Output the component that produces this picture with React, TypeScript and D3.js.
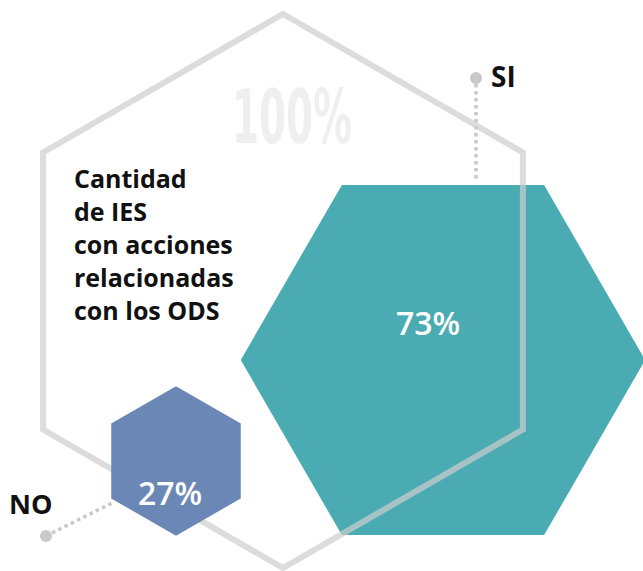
import React from "react";
import * as d3 from "d3";

// ---- data ----
const categories = ["SI", "NO"];
const values = [73, 27];
const totalValue = 100;
const valueLabels = ["73%", "27%"];
const totalLabel = "100%";
const titleLines = ["Cantidad", "de IES", "con acciones", "relacionadas", "con los ODS"];

// ---- layout / style ----
const W = 643;
const H = 571;
const colors = ["#4aabb3", "#6a87b6"];
const outlineColor = "#cdcdcd";
const dotColor = "#c9c9c9";
const font = "'Open Sans', 'Noto Sans', sans-serif";

const rScale = d3.scaleLinear().domain([0, 100]).range([0, 277]);

const outlineCenter: [number, number] = [283, 291];
const centers: [number, number][] = [
  [443, 360],
  [176, 461],
];
const orientations = [0, -90]; // flat-top, pointy-top
const labelOffsets: [number, number][] = [
  [-15, -25],
  [-6, 44],
];

function hexPoints(cx: number, cy: number, r: number, startDeg: number): [number, number][] {
  return d3.range(6).map((k) => {
    const a = ((startDeg + 60 * k) * Math.PI) / 180;
    return [cx + r * Math.cos(a), cy + r * Math.sin(a)] as [number, number];
  });
}

const hexLine = d3.line<[number, number]>().curve(d3.curveLinearClosed);

export default function App() {
  const outline = hexLine(hexPoints(outlineCenter[0], outlineCenter[1], rScale(totalValue), -90)) || "";
  const hexes = values.map((v, i) =>
    hexLine(hexPoints(centers[i][0], centers[i][1], rScale(v), orientations[i])) || ""
  );

  return (
    <svg
      width={W}
      height={H}
      viewBox={`0 0 ${W} ${H}`}
      style={{ position: "absolute", left: 0, top: 0, background: "#fff" }}
    >
      {/* 100% label */}
      <text
        x={292}
        y={143}
        textAnchor="middle"
        fontFamily="'Liberation Sans Narrow', 'DejaVu Sans Condensed', sans-serif"
        fontWeight={700}
        fontSize={74}
        fill="#efefef"
        textLength={120}
        lengthAdjust="spacingAndGlyphs"
      >
        {totalLabel}
      </text>

      {/* title */}
      <text fontFamily={font} fontWeight={700} fontSize={25} fill="#111">
        {titleLines.map((l, i) => (
          <tspan key={i} x={74} y={188 + i * 33}>
            {l}
          </tspan>
        ))}
      </text>

      {/* SI leader */}
      <line
        x1={476}
        y1={84}
        x2={476}
        y2={182}
        stroke={dotColor}
        strokeWidth={3.5}
        strokeDasharray="3.5 3.5"
      />
      <circle cx={476} cy={78} r={6} fill={dotColor} />
      <text x={491} y={87} fontFamily={font} fontWeight={700} fontSize={28} fill="#111">
        {categories[0]}
      </text>

      {/* NO leader */}
      <line
        x1={52}
        y1={533}
        x2={112}
        y2={503}
        stroke={dotColor}
        strokeWidth={3.5}
        strokeDasharray="3.5 3.5"
      />
      <circle cx={46} cy={536} r={6} fill={dotColor} />
      <text x={9} y={514} fontFamily={font} fontWeight={700} fontSize={27} fill="#111">
        {categories[1]}
      </text>

      {/* SI hexagon */}
      <path d={hexes[0]} fill={colors[0]} />

      {/* 100% outline */}
      <path d={outline} fill="none" stroke={outlineColor} strokeOpacity={0.7} strokeWidth={6} strokeLinejoin="miter" />

      {/* NO hexagon */}
      <path d={hexes[1]} fill={colors[1]} />

      {values.map((v, i) => (
        <text
          key={i}
          x={centers[i][0] + labelOffsets[i][0]}
          y={centers[i][1] + labelOffsets[i][1]}
          textAnchor="middle"
          fontFamily={font}
          fontWeight={600}
          fontSize={32}
          fill="#fff"
        >
          {valueLabels[i]}
        </text>
      ))}
    </svg>
  );
}
